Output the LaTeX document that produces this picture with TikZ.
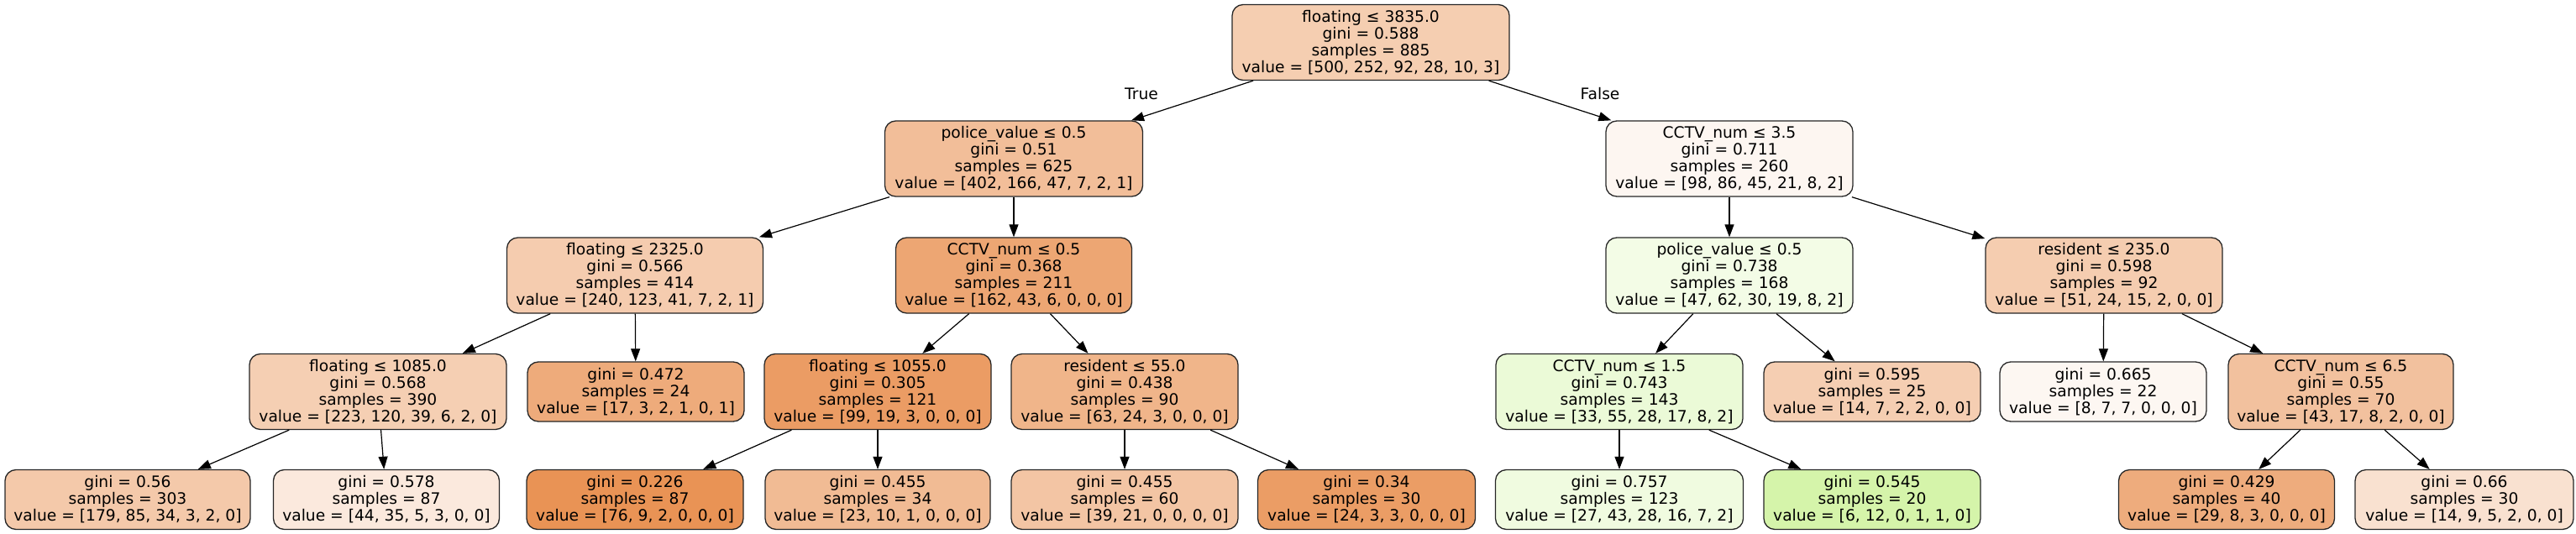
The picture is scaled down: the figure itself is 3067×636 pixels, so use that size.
\documentclass[tikz,border=0pt]{standalone}
\usepackage{fontspec}
\setmainfont{DejaVu Sans}
\usetikzlibrary{arrows.meta}
\definecolor{croot}{RGB}{245,206,177}
\definecolor{cna}{RGB}{242,190,153}
\definecolor{cnb}{RGB}{253,246,241}
\definecolor{cnc}{RGB}{245,204,175}
\definecolor{cnd}{RGB}{237,166,115}
\definecolor{cne}{RGB}{243,252,230}
\definecolor{cnf}{RGB}{245,205,176}
\definecolor{cng}{RGB}{245,207,179}
\definecolor{cnh}{RGB}{238,171,123}
\definecolor{cni}{RGB}{235,156,100}
\definecolor{cnj}{RGB}{240,181,138}
\definecolor{cnk}{RGB}{235,250,215}
\definecolor{cnl}{RGB}{245,206,178}
\definecolor{cnm}{RGB}{253,247,242}
\definecolor{cnn}{RGB}{242,193,158}
\definecolor{cla}{RGB}{244,201,170}
\definecolor{clb}{RGB}{251,233,221}
\definecolor{clc}{RGB}{233,147,85}
\definecolor{cld}{RGB}{241,187,148}
\definecolor{cle}{RGB}{243,197,164}
\definecolor{clf}{RGB}{235,157,101}
\definecolor{clg}{RGB}{240,251,224}
\definecolor{clh}{RGB}{213,244,170}
\definecolor{cli}{RGB}{238,172,125}
\definecolor{clj}{RGB}{249,225,208}
\begin{document}
\begin{tikzpicture}[x=1pt,y=-1pt,
  tn/.style={draw=black!85, line width=1.3pt, rounded corners=13pt, align=center, inner sep=0pt,
    font=\fontsize{18.67}{20}\selectfont, minimum height=90pt},
  lf/.style={tn, minimum height=71pt},
  ed/.style={-{Triangle[length=15pt,width=11pt]}, line width=1.2pt},
  lab/.style={font=\fontsize{18.67}{20}\selectfont, inner sep=0pt}]
\useasboundingbox (0,0) rectangle (3067,636);
% level 0
\node[tn, fill=croot, minimum width=330pt] (root) at (1632,50.5) {floating ≤ 3835.0\\gini = 0.588\\samples = 885\\value = [500, 252, 92, 28, 10, 3]};
% level 1
\node[tn, fill=cna, minimum width=307pt] (n1) at (1207,189) {police\_value ≤ 0.5\\gini = 0.51\\samples = 625\\value = [402, 166, 47, 7, 2, 1]};
\node[tn, fill=cnb, minimum width=294pt] (n2) at (2059,189) {CCTV\_num ≤ 3.5\\gini = 0.711\\samples = 260\\value = [98, 86, 45, 21, 8, 2]};
% level 2
\node[tn, fill=cnc, minimum width=305pt] (n3) at (756,328) {floating ≤ 2325.0\\gini = 0.566\\samples = 414\\value = [240, 123, 41, 7, 2, 1]};
\node[tn, fill=cnd, minimum width=281pt] (n4) at (1207,328) {CCTV\_num ≤ 0.5\\gini = 0.368\\samples = 211\\value = [162, 43, 6, 0, 0, 0]};
\node[tn, fill=cne, minimum width=294pt] (n5) at (2059,328) {police\_value ≤ 0.5\\gini = 0.738\\samples = 168\\value = [47, 62, 30, 19, 8, 2]};
\node[tn, fill=cnf, minimum width=282pt] (n6) at (2505,328) {resident ≤ 235.0\\gini = 0.598\\samples = 92\\value = [51, 24, 15, 2, 0, 0]};
% level 3
\node[tn, fill=cng, minimum width=306pt] (n7) at (450,466.5) {floating ≤ 1085.0\\gini = 0.568\\samples = 390\\value = [223, 120, 39, 6, 2, 0]};
\node[lf, fill=cnh, minimum width=258pt] (n8) at (757,466.5) {gini = 0.472\\samples = 24\\value = [17, 3, 2, 1, 0, 1]};
\node[tn, fill=cni, minimum width=270pt] (n9) at (1045,466.5) {floating ≤ 1055.0\\gini = 0.305\\samples = 121\\value = [99, 19, 3, 0, 0, 0]};
\node[tn, fill=cnj, minimum width=270pt] (n10) at (1339,466.5) {resident ≤ 55.0\\gini = 0.438\\samples = 90\\value = [63, 24, 3, 0, 0, 0]};
\node[tn, fill=cnk, minimum width=294pt] (n11) at (1928,466.5) {CCTV\_num ≤ 1.5\\gini = 0.743\\samples = 143\\value = [33, 55, 28, 17, 8, 2]};
\node[lf, fill=cnl, minimum width=258pt] (n12) at (2229,466.5) {gini = 0.595\\samples = 25\\value = [14, 7, 2, 2, 0, 0]};
\node[lf, fill=cnm, minimum width=246pt] (n13) at (2504,466.5) {gini = 0.665\\samples = 22\\value = [8, 7, 7, 0, 0, 0]};
\node[tn, fill=cnn, minimum width=268pt] (n14) at (2787,466.5) {CCTV\_num ≤ 6.5\\gini = 0.55\\samples = 70\\value = [43, 17, 8, 2, 0, 0]};
% level 4
\node[lf, fill=cla, minimum width=292pt] (l1) at (152,595) {gini = 0.56\\samples = 303\\value = [179, 85, 34, 3, 2, 0]};
\node[lf, fill=clb, minimum width=269pt] (l2) at (460,595) {gini = 0.578\\samples = 87\\value = [44, 35, 5, 3, 0, 0]};
\node[lf, fill=clc, minimum width=258pt] (l3) at (756,595) {gini = 0.226\\samples = 87\\value = [76, 9, 2, 0, 0, 0]};
\node[lf, fill=cld, minimum width=268pt] (l4) at (1045,595) {gini = 0.455\\samples = 34\\value = [23, 10, 1, 0, 0, 0]};
\node[lf, fill=cle, minimum width=270pt] (l5) at (1339,595) {gini = 0.455\\samples = 60\\value = [39, 21, 0, 0, 0, 0]};
\node[lf, fill=clf, minimum width=259pt] (l6) at (1627,595) {gini = 0.34\\samples = 30\\value = [24, 3, 3, 0, 0, 0]};
\node[lf, fill=clg, minimum width=295pt] (l7) at (1928,595) {gini = 0.757\\samples = 123\\value = [27, 43, 28, 16, 7, 2]};
\node[lf, fill=clh, minimum width=258pt] (l8) at (2229,595) {gini = 0.545\\samples = 20\\value = [6, 12, 0, 1, 1, 0]};
\node[lf, fill=cli, minimum width=257pt] (l9) at (2651,595) {gini = 0.429\\samples = 40\\value = [29, 8, 3, 0, 0, 0]};
\node[lf, fill=clj, minimum width=260pt] (l10) at (2934,595) {gini = 0.66\\samples = 30\\value = [14, 9, 5, 2, 0, 0]};
% labels
\node[lab] (tl) at (1359,112) {True};
\node[lab] (fl) at (1905,112) {False};
% edges
\draw[ed] (root) -- (n1);
\draw[ed] (root) -- (n2);
\draw[ed] (n1) -- (n3);
\draw[ed] (n1) -- (n4);
\draw[ed] (n3) -- (n7);
\draw[ed] (n3) -- (n8);
\draw[ed] (n7) -- (l1);
\draw[ed] (n7) -- (l2);
\draw[ed] (n4) -- (n9);
\draw[ed] (n4) -- (n10);
\draw[ed] (n9) -- (l3);
\draw[ed] (n9) -- (l4);
\draw[ed] (n10) -- (l5);
\draw[ed] (n10) -- (l6);
\draw[ed] (n2) -- (n5);
\draw[ed] (n2) -- (n6);
\draw[ed] (n5) -- (n11);
\draw[ed] (n5) -- (n12);
\draw[ed] (n11) -- (l7);
\draw[ed] (n11) -- (l8);
\draw[ed] (n6) -- (n13);
\draw[ed] (n6) -- (n14);
\draw[ed] (n14) -- (l9);
\draw[ed] (n14) -- (l10);
\end{tikzpicture}
\end{document}
